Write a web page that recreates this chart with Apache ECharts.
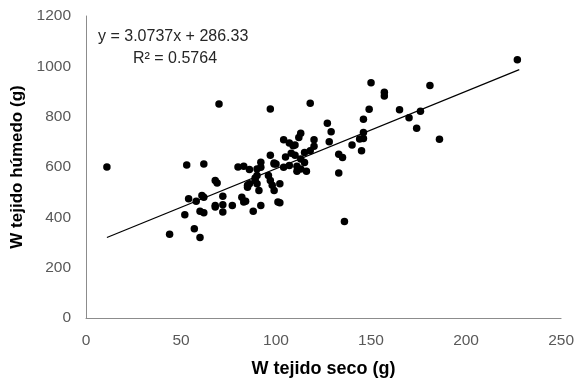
<!DOCTYPE html>
<html>
<head>
<meta charset="utf-8">
<script src="https://cdn.jsdelivr.net/npm/echarts@6/dist/echarts.min.js"></script>
<style>html,body{margin:0;padding:0;background:#fff;}#c{width:577px;height:383px;}</style>
</head>
<body>
<div id="c"></div>
<script>
var xTicks = [0, 50, 100, 150, 200, 250];
var yTicks = [0, 200, 400, 600, 800, 1000, 1200];
var xName = 'W tejido seco (g)';
var yName = 'W tejido húmedo (g)';
var slope = 3.0737;
var intercept = 286.33;
var eqText = 'y = 3.0737x + 286.33';
var r2Text = 'R² = 0.5764';
var trendX = [11, 228];
var seco = [11,70,97,150,157,157,181,227,186,136,44,57,60,52,53,62,80,83,86,92,92,68,69,89,90,85,91,54,58,61,62,72,82,84,68,72,77,92,60,62,68,72,83,88,127,129,128,133,135,133,113,112,104,107,109,110,120,120,118,115,110,113,115,113,116,99,104,107,96,97,98,102,99,102,149,146,146,144,146,140,145,165,170,176,174,118,111,111,99,100,90,90,97,85,86,89,101,105,108];
var humedo = [600,850,830,935,897,882,924,1026,710,383,333,355,320,410,608,612,600,603,590,619,599,546,536,556,533,527,507,474,464,487,480,484,480,464,447,450,447,447,424,418,441,421,461,424,774,740,700,651,638,576,734,717,708,695,684,687,708,682,665,658,647,632,618,592,583,616,599,606,566,546,527,533,507,458,829,790,737,711,713,687,665,827,796,822,754,853,603,583,612,612,592,566,647,520,533,546,461,640,655];

var pts = seco.map(function(x, i){ return [x, humedo[i]]; });
var trend = trendX.map(function(x){ return [x, slope * x + intercept]; });

var FF = 'Liberation Sans, Arial, sans-serif';
var chart = echarts.init(document.getElementById('c'), null, {renderer: 'canvas'});
var axisLabelStyle = {color: '#595959', fontFamily: FF, fontSize: 15.5, formatter: function(v){ return String(v); }};
chart.setOption({
  animation: false,
  backgroundColor: '#fff',
  grid: {left: 86, right: 13, top: 16, bottom: 63, containLabel: false},
  xAxis: {
    type: 'value', min: 0, max: 250, interval: 50,
    name: xName, nameLocation: 'middle', nameGap: 42,
    nameTextStyle: {color: '#000', fontWeight: 'bold', fontSize: 18, fontFamily: FF},
    axisLine: {show: true, lineStyle: {color: '#8c8c8c', width: 1}},
    axisTick: {show: false},
    splitLine: {show: false},
    axisLabel: Object.assign({margin: 15}, axisLabelStyle)
  },
  yAxis: {
    type: 'value', min: 0, max: 1200, interval: 200,
    name: yName, nameLocation: 'middle', nameGap: 51,
    nameTextStyle: {color: '#000', fontWeight: 'bold', fontSize: 17, fontFamily: FF},
    axisLine: {show: true, lineStyle: {color: '#8c8c8c', width: 1}},
    axisTick: {show: false},
    splitLine: {show: false},
    axisLabel: Object.assign({margin: 15}, axisLabelStyle)
  },
  series: [
    {
      type: 'scatter', data: pts, symbol: 'circle', symbolSize: 7.5,
      itemStyle: {color: '#000', opacity: 1}, z: 3
    },
    {
      type: 'line', data: trend, symbol: 'none',
      lineStyle: {color: '#000', width: 1.2}, z: 2
    }
  ],
  graphic: [
    {type: 'text', left: 98, top: 29, style: {text: eqText, fill: '#262626', fontSize: 16, fontFamily: FF}},
    {type: 'text', left: 133, top: 51, style: {text: r2Text, fill: '#262626', fontSize: 16, fontFamily: FF}}
  ]
});
</script>
</body>
</html>
